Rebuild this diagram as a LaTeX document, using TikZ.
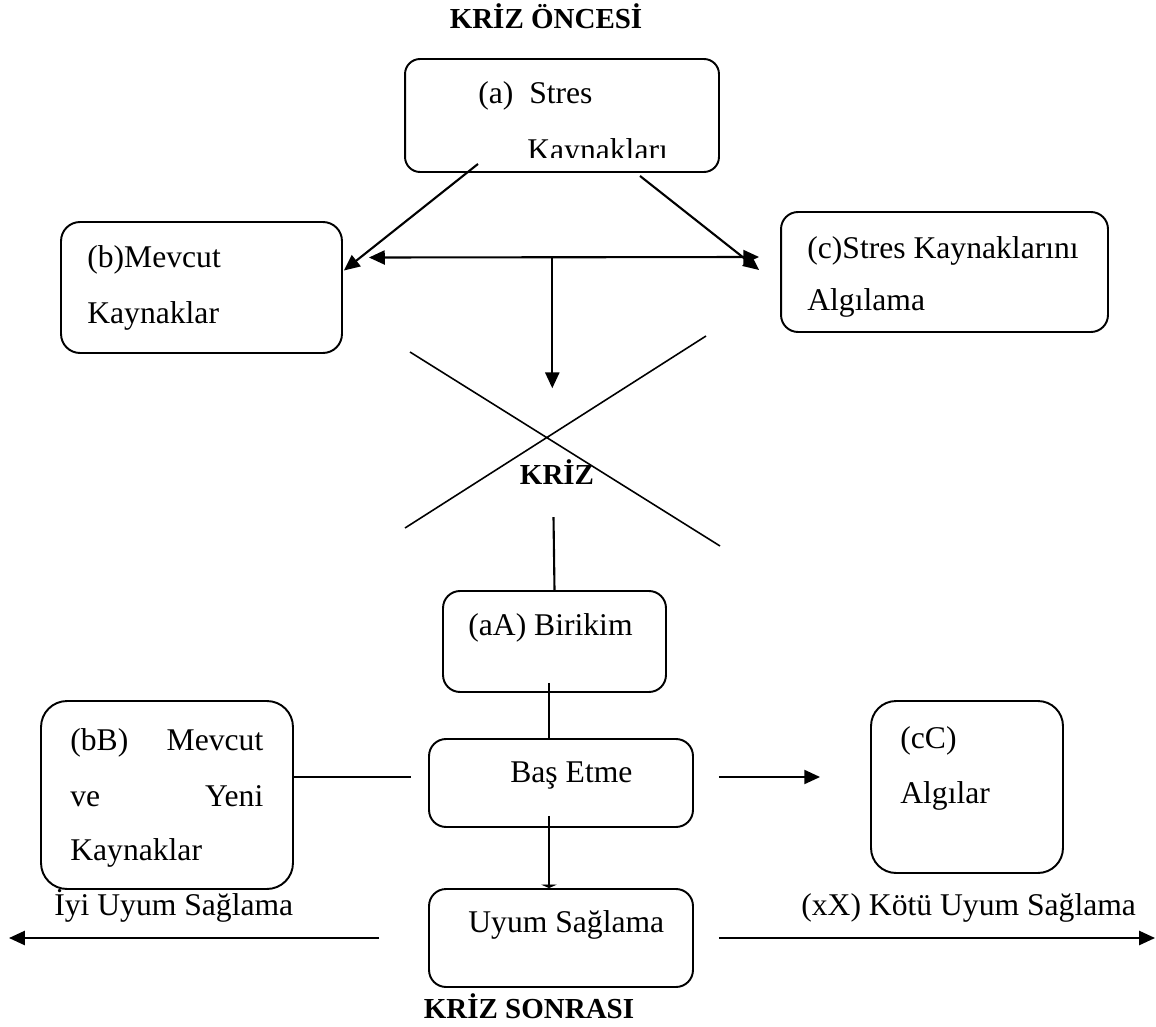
\documentclass[tikz,border=0pt]{standalone}
\usepackage{fontspec}
\setmainfont{Liberation Serif}
\usepackage{tikz}
\usetikzlibrary{arrows.meta,calc}

\begin{document}
\begin{tikzpicture}[x=0.02cm,y=-0.02cm,
  >={Triangle[length=9pt,width=8pt]},
  kutu/.style={draw,line width=1.1pt,rounded corners=0.34cm,inner sep=0pt},
  yazi/.style={anchor=base west,inner sep=0pt,font=\fontsize{18}{31}\selectfont},
  baslik/.style={anchor=base,inner sep=0pt,font=\fontsize{16.5}{20}\selectfont\bfseries},
  cizgi/.style={line width=1.2pt},
  ok/.style={cizgi,->}]
\useasboundingbox (0,0) rectangle (1156,1027);

% kriz oncesi
\node [baslik] (oncesi) at (546,29) {KRİZ ÖNCESİ};
\node [kutu,minimum width=6.28cm,minimum height=2.26cm,rounded corners=0.3cm] (a) at (562,115.5) {};
\node [kutu,minimum width=5.62cm,minimum height=2.62cm,rounded corners=0.38cm] (b) at (201.5,287.5) {};
\node [kutu,minimum width=6.54cm,minimum height=2.4cm] (c) at (944.5,272) {};
\node [yazi] (a1) at (478,104) {(a)\ \ Stres};
\begin{scope}
\clip (405,59) rectangle (719,158);
\node [yazi] (a2) at (527,161) {Kaynakları};
\end{scope}
\node [yazi] (b1) at (87,268) {(b)Mevcut};
\node [yazi] (b2) at (87,323) {Kaynaklar};
\node [yazi] (c1) at (807,258) {(c)Stres Kaynaklarını};
\node [yazi] (c2) at (807,310) {Algılama};

\draw [ok] ($(a.south)+(-84,-9)$) -- ($(b.east)+(1,-17)$);
\draw [ok] ($(a.south)+(78,3)$) -- ($(c.west)+(-21,-2)$);
\coordinate (sol) at ($(b.east)+(26,-30)$);
\coordinate (sag) at ($(c.west)+(-21,-15)$);
\draw [cizgi,<->] (sol) -- (sag);
\coordinate (orta) at ($(sol)!0.47!(sag)$);
\draw [ok] (orta) -- ($(orta)+(0,131)$);

% kriz
\draw [line width=0.9pt] (410,352) -- (720,546) (706,336) -- (405,528);
\node [baslik] (kriz) at (557,484) {KRİZ};

% kriz sonrasi
\node [kutu,minimum width=4.46cm,minimum height=2.02cm] (aA) at (554.5,641.5) {};
\node [kutu,minimum width=5.28cm,minimum height=1.76cm] (be) at (561,783) {};
\node [kutu,minimum width=5.04cm,minimum height=3.76cm,rounded corners=0.52cm] (bB) at (167,795) {};
\node [kutu,minimum width=3.84cm,minimum height=3.44cm,rounded corners=0.5cm] (cC) at (967,787) {};
\node [kutu,minimum width=5.28cm,minimum height=1.96cm] (us) at (561,938) {};
\node [yazi] (aA1) at (468,635) {(aA) Birikim};
\node [yazi] (be1) at (510,782) {Baş Etme};
\node [yazi] (bB1) at (70,750) {\makebox[3.86cm]{(bB)\hfill Mevcut}};
\node [yazi] (bB2) at (70,806) {\makebox[3.86cm]{ve\hfill Yeni}};
\node [yazi] (bB3) at (70,860) {Kaynaklar};
\node [yazi] (cC1) at (900,748) {(cC)};
\node [yazi] (cC2) at (900,803) {Algılar};
\node [yazi] (us1) at (468,932) {Uyum Sağlama};
\node [yazi] (iyi1) at (54,915) {İyi Uyum Sağlama};
\node [yazi] (kotu1) at (801,915) {(xX) Kötü Uyum Sağlama};
\node [baslik] (sonrasi) at (529,1018) {KRİZ SONRASI};

\draw [cizgi] ($(aA.north)+(-1,-73)$) -- (aA.north);
\draw [cizgi] ($(aA.south)+(-5.5,-10)$) -- ($(be.north)+(-12,0)$);
\draw [cizgi,-{Triangle[length=2pt,width=9pt]}] ($(be.south)+(-12,-12)$) -- ($(us.north)+(-12,0)$);
\draw [cizgi] ($(bB.east)+(0,-18)$) -- ($(be.west)+(-17,-6)$);
\draw [ok] ($(be.east)+(25,-6)$) -- ($(cC.west)+(-50,-10)$);
\coordinate (iyi) at (9,938);
\coordinate (kotu) at (1155,938);
\draw [ok] ($(us.west)+(-49,0)$) -- (iyi);
\draw [ok] ($(us.east)+(25,0)$) -- (kotu);
\end{tikzpicture}
\end{document}
